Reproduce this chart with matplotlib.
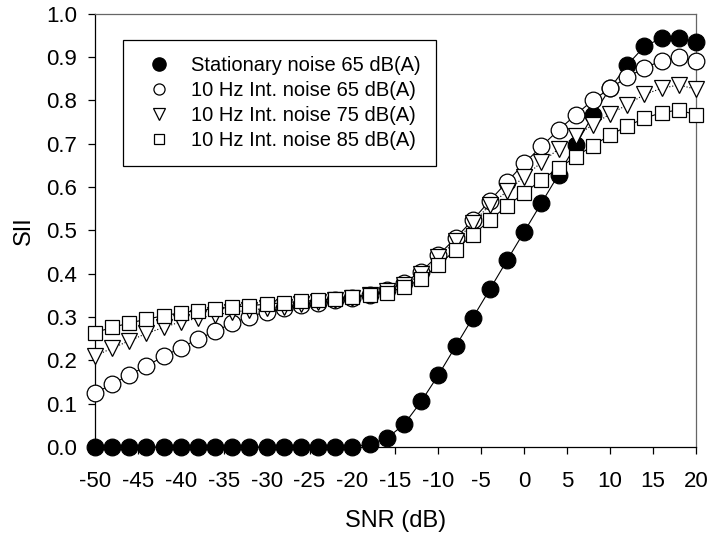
import matplotlib
matplotlib.use("Agg")
import matplotlib.pyplot as plt

plt.rcParams['font.family'] = ['Liberation Sans', 'DejaVu Sans']

# -----------------------------------------------------------------------------
# Data
# -----------------------------------------------------------------------------
snr = [-50, -48, -46, -44, -42, -40, -38, -36, -34, -32, -30, -28,
       -26, -24, -22, -20, -18, -16, -14, -12, -10, -8, -6, -4,
       -2, 0, 2, 4, 6, 8, 10, 12, 14, 16, 18, 20]

stat65 = [0, 0, 0, 0, 0, 0, 0, 0, 0, 0, 0, 0,
          0, 0, 0, 0, 0.007, 0.02, 0.052, 0.105, 0.166, 0.232, 0.298, 0.364,
          0.431, 0.497, 0.563, 0.629, 0.697, 0.766, 0.828, 0.882, 0.925, 0.944, 0.944, 0.936]

int65 = [0.124, 0.145, 0.166, 0.187, 0.209, 0.229, 0.249, 0.267, 0.286, 0.301, 0.312, 0.320,
         0.327, 0.333, 0.339, 0.345, 0.352, 0.363, 0.379, 0.405, 0.443, 0.482, 0.524, 0.569,
         0.612, 0.655, 0.694, 0.732, 0.767, 0.801, 0.828, 0.854, 0.875, 0.892, 0.900, 0.892]

int75 = [0.210, 0.228, 0.245, 0.262, 0.276, 0.289, 0.297, 0.305, 0.311, 0.316, 0.320, 0.324,
         0.329, 0.334, 0.339, 0.345, 0.351, 0.360, 0.373, 0.400, 0.438, 0.475, 0.517, 0.559,
         0.590, 0.624, 0.657, 0.688, 0.718, 0.744, 0.769, 0.790, 0.814, 0.828, 0.836, 0.826]

int85 = [0.264, 0.276, 0.286, 0.295, 0.303, 0.310, 0.315, 0.319, 0.323, 0.326, 0.330, 0.333,
         0.336, 0.339, 0.342, 0.346, 0.351, 0.356, 0.369, 0.387, 0.420, 0.455, 0.490, 0.523,
         0.557, 0.586, 0.617, 0.644, 0.670, 0.696, 0.720, 0.741, 0.759, 0.772, 0.778, 0.767]

labels = ['Stationary noise 65 dB(A)', '10 Hz Int. noise 65 dB(A)',
          '10 Hz Int. noise 75 dB(A)', '10 Hz Int. noise 85 dB(A)']

xticks = [-50, -45, -40, -35, -30, -25, -20, -15, -10, -5, 0, 5, 10, 15, 20]
yticks = [0.0, 0.1, 0.2, 0.3, 0.4, 0.5, 0.6, 0.7, 0.8, 0.9, 1.0]

# -----------------------------------------------------------------------------
# Plot
# -----------------------------------------------------------------------------
fig = plt.figure(figsize=(7.08, 5.34), dpi=100)
ax = fig.add_axes([0.134, 0.163, 0.849, 0.811])

ax.plot(snr, stat65, color='black', lw=0.8, ls='-', marker='o', ms=12,
        mfc='black', mec='black', mew=0.9, clip_on=False, zorder=3)
ax.plot(snr, int65, color='black', lw=0.8, ls='-', marker='o', ms=12,
        mfc='white', mec='black', mew=0.9, clip_on=False, zorder=4)
ax.plot(snr, int75, color='black', lw=0.8, ls=':', marker='v', ms=12,
        mfc='white', mec='black', mew=0.9, clip_on=False, zorder=5)
ax.plot(snr, int85, color='black', lw=0.8, ls='-', marker='s', ms=10,
        mfc='white', mec='black', mew=0.9, clip_on=False, zorder=6)

# legend with markers only (smaller than in the plot)
handles = [
    plt.Line2D([], [], ls='none', marker='o', ms=9.5, mfc='black', mec='black'),
    plt.Line2D([], [], ls='none', marker='o', ms=8, mfc='white', mec='black', mew=0.9),
    plt.Line2D([], [], ls='none', marker='v', ms=8, mfc='white', mec='black', mew=0.9),
    plt.Line2D([], [], ls='none', marker='s', ms=7, mfc='white', mec='black', mew=0.9),
]
leg = ax.legend(handles, labels, loc='upper left', bbox_to_anchor=(0.047, 0.94),
                fontsize=14.5, frameon=True, fancybox=False, edgecolor='black',
                framealpha=1, borderpad=0.8, labelspacing=0.3, handletextpad=0.55,
                handlelength=2.0, borderaxespad=0)
leg.get_frame().set_linewidth(0.9)

ax.set_xlim(-50, 20)
ax.set_ylim(0, 1.0)
ax.set_xticks(xticks)
ax.set_yticks(yticks)
ax.set_xticklabels([str(t) for t in xticks])
ax.set_yticklabels(['%.1f' % t for t in yticks])
ax.tick_params(axis='both', direction='out', length=5, width=0.9,
               labelsize=16, top=False, right=False)
ax.tick_params(axis='x', pad=12)
ax.tick_params(axis='y', pad=8)

for side in ['left', 'bottom']:
    ax.spines[side].set_color('black')
    ax.spines[side].set_linewidth(0.9)
for side in ['top', 'right']:
    ax.spines[side].set_color('#666666')
    ax.spines[side].set_linewidth(0.9)

ax.set_xlabel('SNR (dB)', fontsize=17, labelpad=13)
ax.set_ylabel('SII', fontsize=17, labelpad=8)

fig.savefig('out.png', dpi=100)
